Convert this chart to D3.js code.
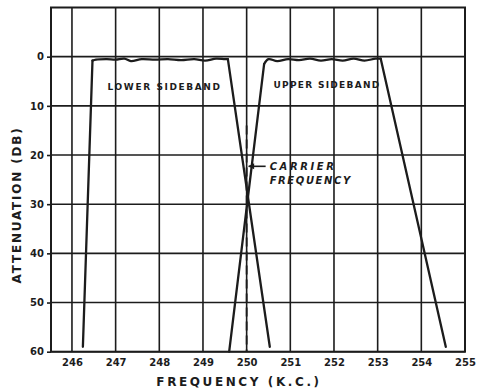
<!DOCTYPE html>
<html>
<head>
<meta charset="utf-8">
<script src="https://cdn.jsdelivr.net/npm/d3@7"></script>
<style>
  html, body { margin: 0; padding: 0; background: #fff; }
  svg { display: block; }
  text { font-family: "DejaVu Sans", "Liberation Sans", sans-serif; fill: #1c1c1c; }
</style>
</head>
<body>
<svg id="chart" width="477" height="389"></svg>
<script>
// ---- data ----
const xTickValues = [246, 247, 248, 249, 250, 251, 252, 253, 254, 255];
const yTickValues = [0, 10, 20, 30, 40, 50, 60];

// Lower sideband filter response: frequency (kc) and attenuation (dB)
const lowerFreq = [246.25, 246.47, 246.55, 246.8, 247.0, 247.2, 247.35, 247.6, 247.9, 248.2, 248.5, 248.8, 249.05, 249.3, 249.5, 249.57, 250.53];
const lowerAtt  = [59,     0.8,    0.6,    0.5,   0.6,   0.4,   0.9,    0.5,   0.6,   0.5,   0.7,   0.5,   0.8,    0.4,   0.5,   0.5,    59];

// Upper sideband filter response
const upperFreq = [249.6, 250.4, 250.5, 250.7, 250.95, 251.2, 251.45, 251.7, 251.95, 252.2, 252.45, 252.7, 252.95, 253.07, 254.56];
const upperAtt  = [60,    1.5,   0.5,   0.9,   0.5,    0.7,   0.4,    0.8,   0.5,    0.8,   0.4,    0.8,   0.4,    0.4,    59];

const carrierFreq = 250;
const carrierRange = [14, 60];

const lowerLabel = "LOWER SIDEBAND";
const upperLabel = "UPPER SIDEBAND";
const carrierLabel = ["CARRIER", "FREQUENCY"];
const xTitle = "FREQUENCY (K.C.)";
const yTitle = "ATTENUATION (DB)";

// ---- layout ----
const svg = d3.select("#chart");
const pLeft = 51, pRight = 465, pTop = 7.5, pBottom = 351.7;
const ink = "#1c1c1c";

const x = d3.scaleLinear().domain([245.52, 255]).range([pLeft, pRight]);
const y = d3.scaleLinear().domain([-10, 60]).range([pTop, pBottom]);

// grid
const grid = svg.append("g");
grid.selectAll("line.v").data(xTickValues).enter().append("line")
  .attr("x1", d => x(d)).attr("x2", d => x(d))
  .attr("y1", pTop).attr("y2", pBottom)
  .attr("stroke", ink).attr("stroke-width", 1.6);
grid.selectAll("line.h").data(yTickValues).enter().append("line")
  .attr("x1", pLeft).attr("x2", pRight)
  .attr("y1", d => y(d)).attr("y2", d => y(d))
  .attr("stroke", ink).attr("stroke-width", 1.6);

// frame
svg.append("rect").attr("x", pLeft).attr("y", pTop)
  .attr("width", pRight - pLeft).attr("height", pBottom - pTop)
  .attr("fill", "none").attr("stroke", ink).attr("stroke-width", 2);

// y axis (ticks outside + labels)
const yAxis = d3.axisLeft(y).tickValues(yTickValues).tickSize(4).tickPadding(3);
const yg = svg.append("g").attr("transform", `translate(${pLeft},0)`).call(yAxis);
yg.select(".domain").remove();
yg.selectAll(".tick line").attr("stroke", ink).attr("stroke-width", 1.6);
yg.selectAll(".tick text").attr("font-size", 10).attr("font-weight", "bold")
  .attr("font-family", "DejaVu Sans, sans-serif").attr("fill", ink);

// x axis labels
const xAxis = d3.axisBottom(x).tickValues(xTickValues).tickSize(0).tickPadding(7);
const xg = svg.append("g").attr("transform", `translate(0,${pBottom})`).call(xAxis);
xg.select(".domain").remove();
xg.selectAll(".tick text").attr("font-size", 10).attr("font-weight", "bold")
  .attr("font-family", "DejaVu Sans, sans-serif").attr("fill", ink);

// carrier dashed line
svg.append("line")
  .attr("x1", x(carrierFreq)).attr("x2", x(carrierFreq))
  .attr("y1", y(carrierRange[0])).attr("y2", y(carrierRange[1]))
  .attr("stroke", ink).attr("stroke-width", 1.8)
  .attr("stroke-dasharray", "9,5");

// curves: straight skirts + rippled passband
const straight = d3.line().x(d => x(d[0])).y(d => y(d[1]));
const ripple = d3.line().x(d => x(d[0])).y(d => y(d[1])).curve(d3.curveCatmullRom);
function drawResponse(freqs, atts) {
  const pts = freqs.map((f, i) => [f, atts[i]]);
  const n = pts.length;
  const g = svg.append("g").attr("fill", "none").attr("stroke", ink)
    .attr("stroke-width", 2.3).attr("stroke-linejoin", "round").attr("stroke-linecap", "round");
  g.append("path").attr("d", straight(pts.slice(0, 2)));
  g.append("path").attr("d", ripple(pts.slice(1, n - 1)));
  g.append("path").attr("d", straight(pts.slice(n - 2)));
}
drawResponse(lowerFreq, lowerAtt);
drawResponse(upperFreq, upperAtt);

// sideband labels
svg.append("text").attr("x", x(248.12)).attr("y", y(6.1)).attr("dy", "0.35em")
  .attr("text-anchor", "middle").attr("font-size", 9).attr("font-weight", "bold")
  .attr("letter-spacing", 1.6).text(lowerLabel);
svg.append("text").attr("x", x(251.84)).attr("y", y(5.8)).attr("dy", "0.35em")
  .attr("text-anchor", "middle").attr("font-size", 9).attr("font-weight", "bold")
  .attr("letter-spacing", 1.3).text(upperLabel);

// carrier annotation with arrow
const ay = y(22.3);
svg.append("line").attr("x1", x(carrierFreq) + 2).attr("x2", x(carrierFreq) + 19)
  .attr("y1", ay).attr("y2", ay).attr("stroke", ink).attr("stroke-width", 1.6);
svg.append("path")
  .attr("d", `M${x(carrierFreq) + 1.5},${ay} l6,-3 l0,6 z`).attr("fill", ink);
svg.append("text").attr("x", x(carrierFreq) + 23).attr("y", ay).attr("dy", "0.35em")
  .attr("font-size", 10).attr("font-weight", "bold").attr("font-style", "italic")
  .attr("letter-spacing", 2.6).text(carrierLabel[0]);
svg.append("text").attr("x", x(carrierFreq) + 23).attr("y", ay + 14).attr("dy", "0.35em")
  .attr("font-size", 10).attr("font-weight", "bold").attr("font-style", "italic")
  .attr("letter-spacing", 1.6).text(carrierLabel[1]);

// axis titles
svg.append("text").attr("x", 239).attr("y", 382).attr("dy", "0.35em")
  .attr("text-anchor", "middle").attr("font-size", 12).attr("font-weight", 600)
  .attr("letter-spacing", 2.6).text(xTitle);
svg.append("text").attr("transform", "translate(17,205) rotate(-90)")
  .attr("dy", "0.35em").attr("text-anchor", "middle").attr("font-size", 12)
  .attr("font-weight", 600).attr("letter-spacing", 1.8).text(yTitle);
</script>
</body>
</html>
